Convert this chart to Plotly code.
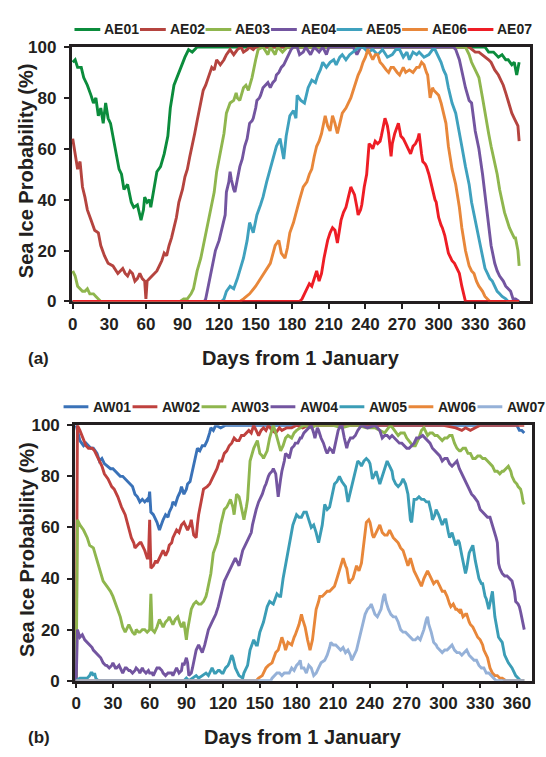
import plotly.graph_objects as go

# ---------------- data ----------------
AE_NAMES = ["AE01", "AE02", "AE03", "AE04", "AE05", "AE06", "AE07"]
AW_NAMES = ["AW01", "AW02", "AW03", "AW04", "AW05", "AW06", "AW07"]
XTICKS = [0, 30, 60, 90, 120, 150, 180, 210, 240, 270, 300, 330, 360]
YTICKS = [0, 20, 40, 60, 80, 100]

# (day, probability %) pairs
AE01 = [(0,94),(2,95),(4,92),(7,92),(9,88),(12,85),(15,81),(17,78),(19,80),(21,73),(23,76),(25,70),(27,78),
        (29,72),(31,70),(33,65),(36,56),(38,52),(40,50),(42,44),(45,46),(48,39),(50,37),(53,38),(55,34),(56,32),
        (58,36),(59,41),(61,39),(63,40),(64,37),(66,42),(67,46),(69,51),(72,53),(75,58),(78,65),(80,76),(83,85),
        (87,90),(90,93),(92,96),(95,99),(98,98),(102,100),(330,100),(338,100),(341,98),(345,98),(349,96),(352,97),
        (355,95),(357,95),(360,93),(362,94),(364,89),(365,92),(366,94)]
AE02 = [(0,64),(2,58),(4,52),(6,55),(8,45),(10,41),(12,36),(15,32),(18,28),(21,27),(23,22),(26,18),(29,15),
        (33,14),(37,11),(41,13),(43,11),(45,10),(47,12),(49,11),(51,8),(53,9),(55,11),(57,9),(59,8),(60,1),(61,8),
        (63,9),(65,10),(67,11),(69,12),(71,14),(73,16),(75,19),(77,18),(79,22),(81,25),(83,29),(85,33),(87,39),
        (90,44),(92,49),(94,52),(96,57),(98,61),(100,66),(102,71),(105,78),(107,83),(109,85),(111,88),(114,92),
        (116,91),(118,95),(121,93),(124,95),(126,97),(129,99),(132,97),(135,99),(138,100),(140,98),(143,99),
        (145,100),(148,99),(150,100),(325,100),(330,98),(333,98),(336,97),(338,96),(341,95),(343,94),(346,91),
        (349,89),(351,87),(353,85),(355,82),(357,79),(359,76),(360,74),(362,72),(363,71),(365,69),(366,63)]
AE03 = [(0,12),(2,10),(4,6),(6,5),(8,4),(10,4),(12,5),(14,3),(17,3),(19,2),(21,1),(23,0),(88,0),(91,1),(94,1),
        (97,3),(99,5),(102,12),(105,17),(107,22),(110,28),(113,37),(116,43),(118,51),(121,58),(124,66),(126,74),
        (129,78),(132,79),(134,82),(135,80),(137,79),(140,84),(142,85),(144,83),(147,88),(150,95),(152,99),
        (156,100),(160,97),(162,100),(166,97),(168,100),(172,98),(176,100),(322,100),(325,97),(327,94),(330,91),
        (333,88),(336,80),(338,74),(341,66),(343,61),(346,55),(348,50),(350,44),(352,39),(354,35),(356,32),
        (358,29),(360,27),(362,25),(363,25),(365,20),(366,14)]
AE04 = [(0,0),(108,0),(109,1),(111,6),(114,14),(117,20),(120,24),(122,28),(124,31),(125,34),(126,43),(128,47),
        (129,51),(130,48),(132,44),(133,43),(135,48),(137,53),(139,56),(141,61),(143,64),(145,70),(147,71),
        (148,72),(150,76),(151,79),(153,80),(154,81),(156,84),(158,85),(160,86),(162,84),(164,86),(166,87),
        (167,89),(169,90),(171,92),(173,93),(175,95),(177,97),(179,99),(181,100),(184,100),(186,97),(189,98),
        (191,100),(195,97),(198,100),(202,98),(205,100),(208,97),(210,100),(230,100),(233,97),(236,100),(312,100),
        (314,99),(317,95),(319,90),(322,84),(325,79),(327,78),(330,67),(333,60),(336,50),(338,42),(341,31),
        (343,22),(346,15),(348,12),(350,10),(353,8),(355,6),(357,5),(359,4),(361,1),(363,1),(366,0)]
AE05 = [(0,0),(122,0),(124,1),(126,4),(129,6),(132,5),(135,9),(137,12),(140,17),(143,24),(145,31),(148,27),
        (151,34),(154,38),(156,41),(159,47),(162,52),(164,55),(167,61),(170,64),(173,56),(175,65),(178,73),
        (181,75),(183,72),(184,81),(187,79),(190,78),(193,84),(196,87),(199,86),(201,89),(203,91),(205,94),
        (208,92),(211,94),(214,95),(216,93),(219,96),(221,97),(224,95),(227,97),(230,98),(232,99),(235,100),
        (238,100),(242,98),(246,99),(250,97),(254,99),(258,96),(262,97),(265,99),(268,99),(271,96),(274,98),
        (276,95),(279,98),(282,97),(284,98),(288,96),(292,97),(295,99),(297,99),(300,96),(302,94),(304,91),
        (306,89),(308,84),(311,78),(314,74),(317,67),(319,61),(322,53),(325,46),(327,39),(330,32),(333,25),
        (336,19),(338,13),(340,11),(342,9),(344,8),(346,6),(348,4),(350,3),(352,2),(355,1),(357,0),(366,0)]
AE06 = [(0,0),(137,0),(140,1),(145,3),(150,6),(154,9),(158,12),(162,15),(166,22),(169,24),(171,19),(174,17),
        (176,21),(178,27),(181,31),(183,35),(186,40),(189,45),(192,47),(194,50),(196,52),(198,57),(200,61),
        (202,63),(204,66),(207,73),(209,69),(211,67),(213,73),(215,70),(217,66),(219,70),(221,74),(224,76),
        (226,78),(228,80),(230,83),(232,86),(234,89),(236,91),(238,94),(240,96),(242,99),(244,97),(246,95),
        (248,97),(250,97),(252,94),(254,93),(257,91),(259,90),(261,92),(263,92),(266,90),(268,89),(271,92),
        (273,90),(276,91),(279,90),(282,92),(284,92),(286,94),(288,93),(290,90),(291,89),(293,80),(295,84),
        (296,83),(298,82),(300,81),(302,78),(303,76),(306,70),(308,61),(311,52),(314,46),(317,37),(319,29),
        (322,20),(325,14),(327,12),(329,11),(331,8),(333,6),(336,4),(338,2),(340,1),(342,0),(366,0)]
AE07 = [(0,0),(186,0),(188,1),(190,3),(192,5),(194,7),(196,6),(198,9),(200,12),(202,8),(204,11),(206,17),
        (208,22),(209,24),(211,27),(213,29),(215,28),(217,23),(219,29),(220,32),(222,35),(224,37),(226,41),
        (228,45),(229,44),(231,42),(233,37),(234,34),(236,36),(237,38),(239,45),(241,50),(243,62),(245,61),
        (246,60),(248,63),(250,62),(252,63),(253,65),(255,69),(256,72),(258,69),(259,66),(261,57),(262,62),
        (264,66),(266,69),(267,70),(269,65),(271,64),(273,62),(275,60),(277,58),(279,61),(281,62),(283,64),
        (284,66),(286,58),(287,55),(289,54),(290,53),(292,50),(294,46),(295,43),(297,40),(298,39),(300,33),
        (302,30),(303,29),(305,26),(306,24),(308,19),(310,17),(311,16),(313,15),(314,14),(316,12),(317,11),
        (319,6),(321,2),(322,0),(366,0)]

AW01 = [(0,100),(1,98),(3,94),(6,92),(8,93),(10,92),(12,91),(14,91),(17,89),(19,86),(21,87),(23,85),(26,84),
        (28,83),(30,83),(32,82),(34,81),(36,80),(38,80),(40,79),(42,78),(44,77),(46,76),(48,73),(50,72),(52,70),
        (54,71),(56,70),(58,71),(59,70),(60,74),(61,66),(63,65),(64,64),(66,62),(68,59),(70,62),(71,63),(73,65),
        (75,64),(76,66),(78,68),(79,70),(81,69),(83,72),(85,74),(86,76),(88,73),(90,75),(91,77),(93,78),(94,80),
        (96,85),(98,88),(99,91),(101,90),(103,92),(105,92),(107,94),(109,97),(110,99),(112,98),(114,100),
        (118,99),(122,100),(360,100),(362,98),(364,98),(366,97)]
AW02 = [(0,0),(1,100),(3,98),(6,94),(8,92),(10,91),(13,91),(15,90),(18,87),(21,84),(23,81),(26,79),(29,76),
        (31,75),(34,72),(37,68),(40,65),(42,61),(44,58),(45,56),(47,54),(48,52),(50,53),(52,54),(53,54),(55,52),
        (56,51),(58,48),(59,48),(60,63),(61,44),(63,45),(65,47),(66,46),(68,48),(70,50),(71,51),(73,49),(75,51),
        (76,53),(78,54),(79,56),(81,58),(82,59),(84,58),(86,61),(88,62),(90,60),(91,59),(93,61),(94,63),(96,57),
        (98,56),(99,61),(100,65),(102,70),(104,75),(107,76),(109,77),(111,79),(113,81),(115,83),(117,86),
        (119,86),(121,89),(123,90),(125,92),(127,93),(129,95),(131,94),(133,94),(135,96),(137,96),(139,97),
        (141,98),(143,97),(145,100),(147,98),(149,96),(151,98),(153,99),(155,98),(157,100),(160,98),(163,97),
        (166,99),(168,98),(172,99),(176,99),(180,100),(185,99),(190,100),(300,100),(310,99),(315,98),(318,99),
        (322,98),(326,99),(330,100),(366,100)]
AW03 = [(0,0),(1,63),(3,61),(6,59),(9,56),(11,53),(14,52),(17,47),(19,43),(22,39),(25,37),(28,35),(30,33),
        (33,29),(36,25),(38,21),(40,19),(41,20),(43,22),(44,21),(46,19),(48,18),(49,20),(51,19),(52,19),(54,20),
        (56,20),(58,19),(60,20),(61,34),(62,20),(64,19),(66,21),(68,24),(70,22),(71,21),(73,23),(75,24),(76,25),
        (78,23),(79,22),(81,24),(83,25),(85,22),(86,21),(88,23),(89,20),(90,16),(91,20),(93,25),(94,28),(96,30),
        (98,31),(100,30),(102,30),(104,31),(106,33),(107,35),(109,39),(110,42),(112,50),(114,53),(115,54),
        (117,58),(118,61),(120,65),(121,67),(123,68),(125,70),(126,71),(128,68),(129,65),(131,73),(133,72),
        (134,70),(136,66),(137,63),(139,68),(140,71),(142,86),(144,89),(145,91),(147,93),(148,94),(150,89),
        (152,88),(153,87),(155,89),(156,90),(158,95),(160,98),(161,100),(163,97),(164,95),(166,91),(167,90),
        (169,92),(171,95),(173,96),(176,95),(178,97),(180,98),(183,99),(186,100),(192,99),(196,100),(210,100),
        (217,99),(224,100),(230,100),(237,99),(244,99),(248,98),(252,97),(255,99),(257,100),(260,98),(263,96),
        (265,97),(268,97),(270,95),(273,93),(275,92),(277,92),(279,94),(280,95),(282,98),(284,99),(286,97),
        (287,96),(289,97),(291,97),(293,96),(295,96),(297,95),(299,94),(301,95),(303,95),(305,96),(307,96),
        (309,93),(311,91),(313,90),(314,90),(316,91),(318,91),(320,89),(322,89),(324,87),(326,87),(328,88),
        (330,88),(332,87),(334,87),(336,86),(338,85),(340,84),(342,82),(344,82),(346,81),(348,82),(349,82),
        (351,83),(353,84),(355,82),(356,80),(358,78),(360,77),(361,76),(363,75),(364,73),(365,70),(366,69)]
AW04 = [(0,0),(1,20),(3,17),(5,18),(7,16),(9,15),(11,14),(13,13),(14,12),(16,11),(18,10),(20,9),(22,7),(24,6),
        (25,6),(27,5),(29,6),(30,7),(32,5),(33,5),(35,6),(36,5),(38,3),(40,5),(41,5),(43,4),(44,4),(46,3),(48,4),
        (49,5),(51,4),(52,3),(54,5),(55,4),(57,3),(59,4),(60,3),(62,3),(63,2),(65,4),(66,5),(68,5),(70,4),(71,3),
        (73,2),(75,3),(76,3),(78,3),(79,2),(81,4),(82,5),(84,3),(86,4),(87,7),(88,6),(90,9),(91,7),(92,2),(94,3),
        (95,5),(97,10),(98,12),(100,14),(102,12),(103,11),(105,14),(106,16),(108,20),(111,23),(112,24),(114,26),
        (116,29),(117,31),(119,36),(121,39),(122,40),(124,42),(125,43),(127,45),(129,47),(130,48),(132,46),
        (133,45),(135,49),(136,51),(138,53),(140,55),(141,56),(143,58),(144,61),(146,66),(147,67),(149,70),
        (151,72),(152,73),(154,76),(155,77),(157,80),(158,81),(160,82),(161,83),(163,81),(164,76),(165,72),
        (167,79),(168,82),(170,86),(171,89),(173,88),(174,87),(176,91),(178,92),(179,93),(181,93),(183,95),
        (184,95),(186,97),(188,98),(190,99),(192,100),(194,97),(195,95),(197,99),(198,98),(200,95),(202,93),
        (204,90),(205,89),(207,91),(209,90),(210,89),(212,94),(214,98),(216,100),(217,100),(219,95),(221,91),
        (222,93),(224,95),(226,95),(228,96),(230,98),(233,100),(238,99),(244,100),(246,99),(248,98),(250,95),
        (252,96),(254,96),(256,95),(258,96),(260,95),(262,94),(264,93),(266,93),(268,92),(270,91),(272,91),
        (274,92),(276,93),(278,95),(280,95),(283,96),(285,95),(287,94),(289,93),(291,91),(293,90),(295,89),
        (297,88),(299,86),(301,87),(303,87),(305,85),(307,84),(309,85),(311,86),(313,83),(315,81),(317,79),
        (319,77),(321,75),(323,73),(325,72),(328,70),(330,67),(332,66),(334,65),(336,64),(338,64),(340,61),
        (341,59),(343,56),(344,54),(345,46),(346,44),(348,42),(350,41),(352,41),(354,40),(356,39),(358,35),
        (359,31),(361,30),(362,29),(363,27),(364,25),(366,20)]
AW05 = [(0,0),(3,1),(6,1),(9,1),(11,2),(12,3),(13,3),(14,2),(15,3),(16,1),(18,0),(88,0),(90,1),(92,0),(95,1),
        (98,2),(100,1),(103,2),(106,3),(108,2),(110,4),(111,5),(113,3),(114,3),(116,4),(117,4),(119,3),(120,3),
        (122,5),(124,6),(125,7),(127,10),(128,9),(130,5),(133,2),(136,1),(137,3),(140,6),(142,12),(145,16),
        (147,14),(148,14),(150,19),(153,23),(156,29),(158,31),(161,30),(164,34),(166,33),(167,33),(169,40),
        (172,48),(175,56),(177,61),(180,65),(182,64),(184,64),(186,66),(188,66),(190,63),(192,60),(194,61),
        (196,58),(198,54),(201,61),(203,69),(205,67),(207,68),(209,73),(211,77),(213,78),(215,80),(217,78),
        (220,76),(222,70),(225,76),(228,81),(230,86),(232,85),(233,84),(235,86),(237,87),(239,86),(240,85),
        (242,79),(245,82),(248,77),(251,82),(254,86),(256,84),(258,82),(259,79),(261,77),(263,76),(265,77),
        (267,79),(269,77),(271,73),(273,63),(274,62),(276,71),(278,71),(280,72),(282,71),(284,71),(286,70),
        (288,70),(290,66),(291,63),(293,65),(294,67),(296,65),(298,62),(299,61),(301,63),(302,63),(304,58),
        (305,56),(307,58),(309,55),(310,53),(312,55),(313,54),(315,49),(316,47),(318,42),(319,44),(321,50),
        (322,51),(324,53),(326,47),(328,42),(329,40),(331,38),(332,38),(334,33),(335,32),(337,28),(338,30),
        (340,35),(342,25),(344,20),(345,17),(348,15),(350,10),(353,7),(356,5),(359,2),(361,1),(363,0),(366,0)]
AW06 = [(0,0),(147,0),(149,1),(152,2),(155,5),(157,6),(160,7),(163,11),(165,12),(167,15),(168,17),(170,14),
        (171,12),(173,15),(176,14),(178,17),(179,18),(182,22),(184,26),(185,24),(187,21),(189,16),(191,12),
        (193,16),(194,20),(196,28),(198,31),(199,33),(201,33),(203,34),(205,35),(207,35),(209,36),(211,37),
        (213,40),(215,43),(217,46),(218,48),(220,45),(221,44),(223,38),(224,39),(226,40),(227,42),(229,45),
        (231,43),(233,46),(234,50),(236,57),(237,62),(239,63),(240,62),(242,57),(243,56),(245,58),(247,60),
        (248,61),(250,58),(252,57),(254,57),(256,59),(258,57),(259,56),(261,55),(263,54),(265,52),(267,51),
        (269,48),(271,45),(273,48),(274,46),(276,43),(278,41),(279,40),(281,38),(282,37),(284,40),(286,42),
        (287,43),(289,41),(290,40),(292,38),(294,39),(295,39),(297,37),(299,35),(301,35),(303,33),(305,30),
        (306,29),(308,30),(310,28),(311,28),(313,27),(314,28),(316,25),(318,26),(319,26),(321,23),(322,22),
        (324,21),(325,20),(327,18),(328,17),(330,16),(332,14),(333,12),(335,10),(336,9),(338,5),(340,3),
        (342,2),(344,2),(346,1),(348,1),(351,0),(366,0)]
AW07 = [(0,0),(159,0),(160,1),(162,2),(164,3),(166,3),(168,2),(170,3),(172,3),(174,3),(176,5),(178,4),(180,6),
        (182,7),(183,8),(184,5),(186,5),(188,3),(190,6),(192,5),(194,2),(196,3),(198,5),(200,7),(203,8),(205,10),
        (207,13),(208,15),(210,14),(212,14),(214,13),(216,12),(218,13),(220,11),(222,12),(224,10),(225,8),
        (227,10),(229,12),(230,14),(232,18),(233,20),(235,25),(236,26),(238,28),(240,29),(241,30),(243,27),
        (244,26),(246,25),(248,27),(249,28),(251,33),(252,34),(253,31),(255,28),(257,26),(259,25),(261,25),
        (263,23),(265,20),(267,19),(269,19),(271,18),(273,17),(275,16),(277,16),(279,17),(281,16),(283,19),
        (284,20),(286,24),(287,25),(288,22),(290,19),(292,15),(294,14),(295,13),(297,12),(299,11),(301,12),
        (303,12),(305,13),(307,14),(309,12),(311,11),(313,11),(315,10),(317,11),(319,12),(321,10),(323,9),
        (325,8),(327,8),(329,6),(331,5),(333,5),(335,3),(337,3),(339,2),(341,1),(343,0),(366,0)]

AE_SERIES = [AE01, AE02, AE03, AE04, AE05, AE06, AE07]
AW_SERIES = [AW01, AW02, AW03, AW04, AW05, AW06, AW07]

# ---------------- styling ----------------
AE_COLORS = ["#0B8C3C", "#B5443F", "#8FB64E", "#7355A0", "#3FA1BE", "#E8873A", "#EE1D25"]
AW_COLORS = ["#3A72B8", "#BF413E", "#8FB64E", "#7355A0", "#3B9DB6", "#E8873A", "#95B1D8"]
FRAME = "#231F20"
TEXT = "#231F20"
FONT = "Liberation Sans, Arial, sans-serif"
W, H = 546, 757


def px(x):
    return x / W


def py(y):
    return 1 - y / H


fig = go.Figure()
for names, series, colors, xa, ya in [(AE_NAMES, AE_SERIES, AE_COLORS, "x", "y"),
                                       (AW_NAMES, AW_SERIES, AW_COLORS, "x2", "y2")]:
    for name, pts, col in zip(names, series, colors):
        fig.add_trace(go.Scatter(
            x=[p[0] for p in pts], y=[p[1] for p in pts], name=name, mode="lines",
            line=dict(color=col, width=2.9), xaxis=xa, yaxis=ya, cliponaxis=False,
            hoverinfo="skip"))

axis_common = dict(showline=True, linecolor=FRAME, linewidth=2.5, mirror=True,
                   ticks="outside", ticklen=5, tickwidth=2, tickcolor=FRAME,
                   showgrid=False, zeroline=False, layer="below traces",
                   tickfont=dict(family=FONT, size=17, color=TEXT, weight="bold"))

# panel geometry in pixels
TOP = dict(x0=68, x1=530, y0=39, y1=300, xr=[-1, 375])
BOT = dict(x0=71.5, x1=531.5, y0=427, y1=689, xr=[-1, 372])

fig.update_layout(
    width=W, height=H, margin=dict(l=0, r=0, t=0, b=0),
    paper_bgcolor="white", plot_bgcolor="white", showlegend=False,
    font=dict(family=FONT, color=TEXT),
    xaxis=dict(domain=[px(TOP["x0"]), px(TOP["x1"])], range=TOP["xr"], tickvals=XTICKS,
               anchor="y", **axis_common),
    yaxis=dict(domain=[py(TOP["y1"]), py(TOP["y0"])], range=[0, 100], tickvals=YTICKS,
               anchor="x", ticklabelstandoff=4, **axis_common),
    xaxis2=dict(domain=[px(BOT["x0"]), px(BOT["x1"])], range=BOT["xr"], tickvals=XTICKS,
                anchor="y2", **axis_common),
    yaxis2=dict(domain=[py(BOT["y1"]), py(BOT["y0"])], range=[0, 100], tickvals=YTICKS,
                anchor="x2", ticklabelstandoff=4, **axis_common),
)

shapes = []
annotations = []


def add_legend(names, colors, x_start, period, y, line_len, text_gap):
    for i, (n, c) in enumerate(zip(names, colors)):
        x0 = x_start + i * period
        shapes.append(dict(type="line", xref="paper", yref="paper",
                           x0=px(x0), x1=px(x0 + line_len), y0=py(y), y1=py(y),
                           line=dict(color=c, width=3)))
        annotations.append(dict(text=n, xref="paper", yref="paper", x=px(x0 + line_len + text_gap),
                                y=py(y), xanchor="left", yanchor="middle", showarrow=False,
                                font=dict(family=FONT, size=14, color=TEXT, weight="bold")))


add_legend(AE_NAMES, AE_COLORS, 71, 66, 21, 26, 2)
add_legend(AW_NAMES, AW_COLORS, 60, 69.5, 408, 25, 3)


def add_text(text, x, y, size, angle=0):
    annotations.append(dict(text=text, xref="paper", yref="paper", x=px(x), y=py(y),
                            xanchor="center", yanchor="middle", showarrow=False, textangle=angle,
                            font=dict(family=FONT, size=size, color=TEXT, weight="bold")))


for g, lab in [(TOP, "(a)"), (BOT, "(b)")]:
    add_text("Sea Ice Probability (%)", 23, (g["y0"] + g["y1"]) / 2 - 4, 20, angle=-90)
    add_text("Days from 1 January", (g["x0"] + g["x1"]) / 2, g["y1"] + 58, 20)
    add_text(lab, 35, g["y1"] + 58, 17)

fig.update_layout(shapes=shapes, annotations=annotations)
# the page's default 8px body margin would shift the figure; remove it
fig.write_html("out.html", config={"displayModeBar": False},
               post_script="document.body.style.margin='0px';")
